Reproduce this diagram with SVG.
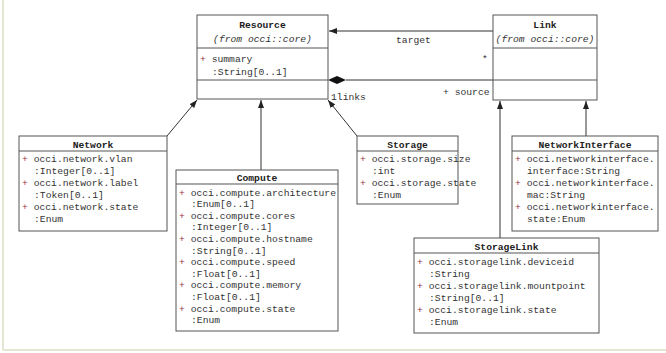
<svg xmlns="http://www.w3.org/2000/svg" width="666" height="353" viewBox="0 0 666 353">
<defs>
<style>
.box{fill:#fff;stroke:#555;stroke-width:1}
.div{stroke:#555;stroke-width:1}
.t{font-family:"Liberation Mono","DejaVu Sans Mono",monospace;font-size:9.7px;fill:#333}
.b{font-weight:bold;text-anchor:middle;fill:#222}
.i{font-style:italic;text-anchor:middle}
.p{fill:#a03040}
.c{stroke:#333;stroke-width:1;fill:none}
</style>
<marker id="ah" markerWidth="8" markerHeight="6" refX="8" refY="3" orient="auto" markerUnits="userSpaceOnUse">
<path d="M0,0 L8,3 L0,6 Z" fill="#222"/>
</marker>
</defs>
<rect width="666" height="353" fill="#fff"/>
<line x1="3" y1="0" x2="3" y2="350" stroke="#dcdcc4" stroke-width="1.5"/>
<line x1="3" y1="350" x2="666" y2="350" stroke="#dcdcc4" stroke-width="1.5"/>

<g id="connectors">
<line class="c" x1="493" y1="31" x2="329" y2="31" marker-end="url(#ah)"/>
<text class="t" x="396" y="43">target</text>
<text class="t" x="482" y="62">*</text>
<line class="c" x1="346" y1="80" x2="493" y2="80"/>
<polygon points="328,80 337,76 346,80 337,84" fill="#111"/>
<text class="t" x="331" y="100">1links</text>
<text class="t" x="443" y="95">+ source</text>
<line class="c" x1="167" y1="136" x2="197" y2="100" marker-end="url(#ah)"/>
<line class="c" x1="261" y1="170" x2="261" y2="100" marker-end="url(#ah)"/>
<line class="c" x1="357" y1="136" x2="328" y2="100" marker-end="url(#ah)"/>
<line class="c" x1="500" y1="238" x2="500" y2="101" marker-end="url(#ah)"/>
<line class="c" x1="586" y1="136" x2="586" y2="101" marker-end="url(#ah)"/>
</g>

<g id="resource">
<rect class="box" x="197" y="15" width="131" height="84"/>
<line class="div" x1="197" y1="48" x2="328" y2="48"/>
<line class="div" x1="197" y1="80" x2="328" y2="80"/>
<text class="t b" x="262.5" y="28">Resource</text>
<text class="t i" x="262.5" y="42">(from occi::core)</text>
<text class="t" x="200" y="62"><tspan class="p">+</tspan> summary</text>
<text class="t" x="212" y="75">:String[0..1]</text>
</g>

<g id="link">
<rect class="box" x="493" y="15" width="104" height="85"/>
<line class="div" x1="493" y1="48" x2="597" y2="48"/>
<line class="div" x1="493" y1="80" x2="597" y2="80"/>
<text class="t b" x="545" y="28">Link</text>
<text class="t i" x="545" y="42">(from occi::core)</text>
</g>

<g id="network">
<rect class="box" x="19" y="136" width="148" height="95"/>
<line class="div" x1="19" y1="151" x2="167" y2="151"/>
<text class="t b" x="93" y="147.5">Network</text>
<text class="t" x="22" y="162"><tspan class="p">+</tspan> occi.network.vlan</text>
<text class="t" x="34" y="174">:Integer[0..1]</text>
<text class="t" x="22" y="186"><tspan class="p">+</tspan> occi.network.label</text>
<text class="t" x="34" y="198">:Token[0..1]</text>
<text class="t" x="22" y="210"><tspan class="p">+</tspan> occi.network.state</text>
<text class="t" x="34" y="222">:Enum</text>
</g>

<g id="compute">
<rect class="box" x="176" y="170" width="162" height="161"/>
<line class="div" x1="176" y1="184" x2="338" y2="184"/>
<text class="t b" x="257" y="180.5">Compute</text>
<text class="t" x="179" y="195.5"><tspan class="p">+</tspan> occi.compute.architecture</text>
<text class="t" x="191" y="207.1">:Enum[0..1]</text>
<text class="t" x="179" y="218.7"><tspan class="p">+</tspan> occi.compute.cores</text>
<text class="t" x="191" y="230.3">:Integer[0..1]</text>
<text class="t" x="179" y="241.9"><tspan class="p">+</tspan> occi.compute.hostname</text>
<text class="t" x="191" y="253.5">:String[0..1]</text>
<text class="t" x="179" y="265.1"><tspan class="p">+</tspan> occi.compute.speed</text>
<text class="t" x="191" y="276.7">:Float[0..1]</text>
<text class="t" x="179" y="288.3"><tspan class="p">+</tspan> occi.compute.memory</text>
<text class="t" x="191" y="299.9">:Float[0..1]</text>
<text class="t" x="179" y="311.5"><tspan class="p">+</tspan> occi.compute.state</text>
<text class="t" x="191" y="323.1">:Enum</text>
</g>

<g id="storage">
<rect class="box" x="357" y="136" width="101" height="68"/>
<line class="div" x1="357" y1="151" x2="458" y2="151"/>
<text class="t b" x="407.5" y="147.5">Storage</text>
<text class="t" x="360" y="162"><tspan class="p">+</tspan> occi.storage.size</text>
<text class="t" x="372" y="174">:int</text>
<text class="t" x="360" y="186"><tspan class="p">+</tspan> occi.storage.state</text>
<text class="t" x="372" y="198">:Enum</text>
</g>

<g id="networkinterface">
<rect class="box" x="512" y="136" width="146" height="95"/>
<line class="div" x1="512" y1="151" x2="658" y2="151"/>
<text class="t b" x="585" y="147.5">NetworkInterface</text>
<text class="t" x="515" y="162"><tspan class="p">+</tspan> occi.networkinterface.</text>
<text class="t" x="527" y="174">interface:String</text>
<text class="t" x="515" y="186"><tspan class="p">+</tspan> occi.networkinterface.</text>
<text class="t" x="527" y="198">mac:String</text>
<text class="t" x="515" y="210"><tspan class="p">+</tspan> occi.networkinterface.</text>
<text class="t" x="527" y="222">state:Enum</text>
</g>

<g id="storagelink">
<rect class="box" x="414" y="238" width="185" height="95"/>
<line class="div" x1="414" y1="253" x2="599" y2="253"/>
<text class="t b" x="506.5" y="249.5">StorageLink</text>
<text class="t" x="417" y="265"><tspan class="p">+</tspan> occi.storagelink.deviceid</text>
<text class="t" x="429" y="277">:String</text>
<text class="t" x="417" y="289"><tspan class="p">+</tspan> occi.storagelink.mountpoint</text>
<text class="t" x="429" y="301">:String[0..1]</text>
<text class="t" x="417" y="313"><tspan class="p">+</tspan> occi.storagelink.state</text>
<text class="t" x="429" y="325">:Enum</text>
</g>
</svg>
